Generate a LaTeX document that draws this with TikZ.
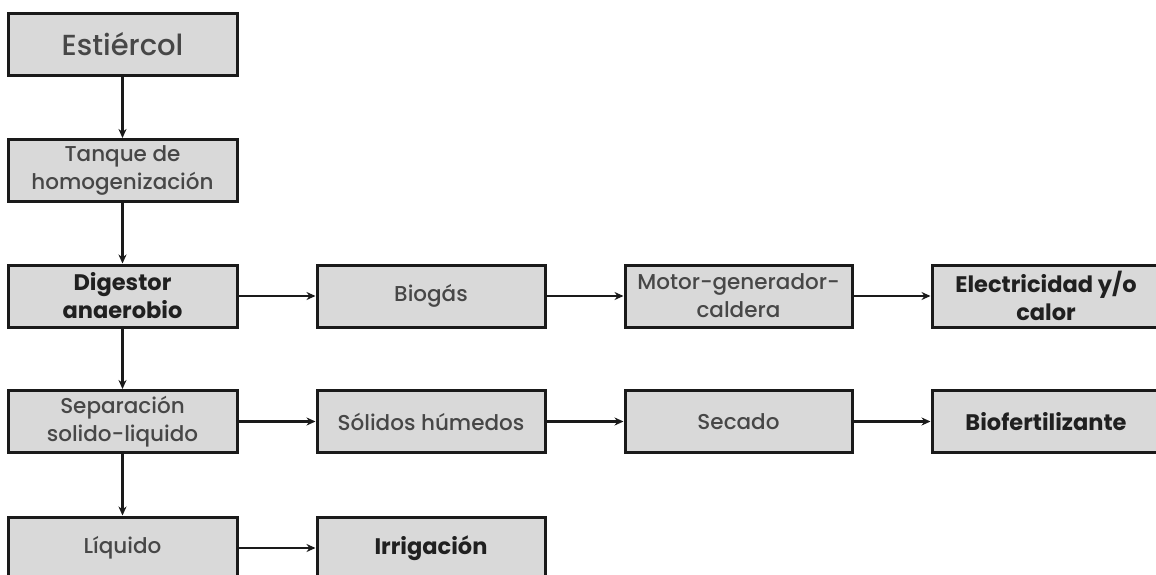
\documentclass[tikz,border=0pt]{standalone}
\usepackage{fontspec}
\setmainfont{Poppins}[UprightFont=* Medium, BoldFont=* Bold]
\usetikzlibrary{arrows.meta}
\definecolor{boxfill}{HTML}{D9D9D9}
\definecolor{boxline}{HTML}{1A1A1A}
\definecolor{txtreg}{HTML}{474747}
\definecolor{txtbold}{HTML}{202020}
\tikzset{
  box/.style={draw=boxline, fill=boxfill, line width=3pt, rectangle,
    minimum height=62pt, inner sep=0pt, align=center,
    text=txtreg, font=\fontsize{21.5}{28}\selectfont},
  boldbox/.style={box, text=txtbold, font=\fontsize{22.5}{28}\selectfont\bfseries},
  w1/.style={minimum width=229pt},
  w2/.style={minimum width=228pt},
  w3/.style={minimum width=227pt},
  w4/.style={minimum width=228pt},
  flow/.style={draw=boxline, line width=2.4pt, -{Stealth[length=9pt,width=8pt]}}
}
\begin{document}
\begin{tikzpicture}[x=1pt,y=-1pt]
\useasboundingbox (0,0) rectangle (1156,575);
\node[box,w1,font=\fontsize{29}{32}\selectfont] (est) at (122.5,44.5) {Estiércol};
\node[box,w1] (tan) at (122.5,170.5) {Tanque de\\homogenización};
\node[boldbox,w1] (dig) at (122.5,296) {Digestor\\anaerobio};
\node[box,w2] (bio) at (431,296) {Biogás};
\node[box,w3] (mot) at (738.5,296) {Motor-generador-\\caldera};
\node[boldbox,w4] (ele) at (1046,296) {Electricidad y/o\\calor};
\node[box,w1] (sep) at (122.5,421.5) {Separación\\solido-liquido};
\node[box,w2] (sol) at (431,421.5) {Sólidos húmedos};
\node[box,w3] (sec) at (738.5,421.5) {Secado};
\node[boldbox,w4] (fer) at (1046,421.5) {Biofertilizante};
\node[box,w1] (liq) at (122.5,548) {Líquido};
\node[boldbox,w2] (irr) at (431,548) {Irrigación};
\draw[flow] (est) -- (tan);
\draw[flow] (tan) -- (dig);
\draw[flow] (dig) -- (sep);
\draw[flow] (sep) -- (liq);
\draw[flow] (dig) -- (bio);
\draw[flow] (bio) -- (mot);
\draw[flow] (mot) -- (ele);
\draw[flow] (sep) -- (sol);
\draw[flow] (sol) -- (sec);
\draw[flow] (sec) -- (fer);
\draw[flow] (liq) -- (irr);
\end{tikzpicture}
\end{document}
